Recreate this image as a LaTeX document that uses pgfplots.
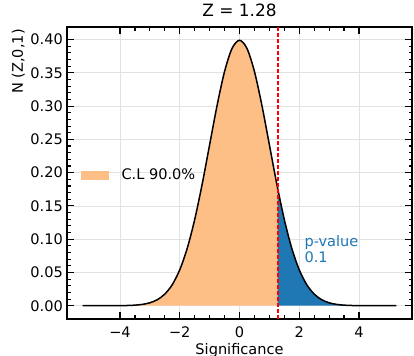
\documentclass[border=0pt]{standalone}
\usepackage{fontspec}
\setmainfont{DejaVu Sans}
\usepackage{pgfplots}
\pgfplotsset{compat=1.18}
\definecolor{cl}{RGB}{254,191,134}
\definecolor{pv}{RGB}{31,119,180}
\definecolor{gr}{RGB}{226,226,226}
\begin{document}
\begin{tikzpicture}[font=\fontsize{14.6}{17}\selectfont]
\useasboundingbox (-67bp,-37bp) rectangle (347bp,319bp);
\begin{axis}[
  at={(0,0)}, anchor=south west,
  scale only axis, width=345bp, height=292bp,
  xmin=-5.775, xmax=5.775, ymin=-0.01995, ymax=0.4189,
  xtick={-4,-2,0,2,4}, xticklabels={−4,−2,0,2,4},
  ytick={0,0.05,0.10,0.15,0.20,0.25,0.30,0.35,0.40},
  yticklabels={0.00,0.05,0.10,0.15,0.20,0.25,0.30,0.35,0.40},
  minor x tick num=3, minor y tick num=4,
  tick align=inside, xtick pos=both, ytick pos=both,
  major tick length=7bp, minor tick length=3.5bp,
  major tick style={black, line width=1.1bp},
  minor tick style={black, line width=1.1bp},
  axis line style={line width=2.4bp},
  grid=major, major grid style={gr, line width=0.8bp},
  tick label style={font=\fontsize{14.6}{17}\selectfont},
  xticklabel style={anchor=north, inner sep=0pt, yshift=-8bp},
  yticklabel style={anchor=east, inner sep=0pt, xshift=-4bp},
  xlabel={Significance},
  xlabel style={at={(rel axis cs:0.5,0)}, anchor=north, inner sep=0pt, yshift=-24bp},
  title={Z = 1.28},
  title style={at={(rel axis cs:0.5,1)}, anchor=base, inner sep=0pt, yshift=5bp, font=\fontsize{17}{20}\selectfont},
  legend style={at={(0.03,0.493)}, anchor=west, draw=none, fill=none, font=\fontsize{14.6}{17}\selectfont},
  legend cell align=left,
]
\addplot[draw=none, fill=cl, smooth, area legend,
  legend image code/.code={\fill[cl] (0bp,-4.5bp) rectangle (28bp,4.5bp); \path (28bp,0) -- (39bp,0);}] coordinates {
(-5.25,0.0000004) (-5.0,0.0000015) (-4.75,0.000005) (-4.5,0.000016) (-4.25,0.000048)
(-4.0,0.000134) (-3.75,0.000353) (-3.5,0.000873) (-3.25,0.002029) (-3.0,0.004432)
(-2.75,0.009094) (-2.5,0.017528) (-2.25,0.031740) (-2.0,0.053991) (-1.75,0.086277)
(-1.5,0.129518) (-1.25,0.182649) (-1.0,0.241971) (-0.75,0.301137) (-0.5,0.352065)
(-0.25,0.386668) (0,0.398942) (0.25,0.386668) (0.5,0.352065) (0.75,0.301137)
(1.0,0.241971) (1.28,0.175850)
} \closedcycle;
\addlegendentry{C.L 90.0\%}
\addplot[draw=none, fill=pv, smooth, forget plot] coordinates {
(1.28,0.175850) (1.5,0.129518) (1.75,0.086277) (2.0,0.053991) (2.25,0.031740)
(2.5,0.017528) (2.75,0.009094) (3.0,0.004432) (3.25,0.002029) (3.5,0.000873)
(3.75,0.000353) (4.0,0.000134) (4.25,0.000048) (4.5,0.000016) (4.75,0.000005)
(5.0,0.0000015) (5.25,0.0000004)
} \closedcycle;
\addplot[black, line width=1.5bp, smooth, forget plot] coordinates {
(-5.25,0.0000004) (-5.0,0.0000015) (-4.75,0.000005) (-4.5,0.000016) (-4.25,0.000048)
(-4.0,0.000134) (-3.75,0.000353) (-3.5,0.000873) (-3.25,0.002029) (-3.0,0.004432)
(-2.75,0.009094) (-2.5,0.017528) (-2.25,0.031740) (-2.0,0.053991) (-1.75,0.086277)
(-1.5,0.129518) (-1.25,0.182649) (-1.0,0.241971) (-0.75,0.301137) (-0.5,0.352065)
(-0.25,0.386668) (0,0.398942) (0.25,0.386668) (0.5,0.352065) (0.75,0.301137)
(1.0,0.241971) (1.25,0.182649) (1.5,0.129518) (1.75,0.086277) (2.0,0.053991) (2.25,0.031740)
(2.5,0.017528) (2.75,0.009094) (3.0,0.004432) (3.25,0.002029) (3.5,0.000873)
(3.75,0.000353) (4.0,0.000134) (4.25,0.000048) (4.5,0.000016) (4.75,0.000005)
(5.0,0.0000015) (5.25,0.0000004)
};
\addplot[red, line width=1.7bp, dash pattern=on 4bp off 2bp, forget plot] coordinates {(1.28,-0.01995) (1.28,0.4189)};
\node[text=pv, align=left, anchor=north west, inner sep=0pt, font=\fontsize{14.6}{16.5}\selectfont] at (axis cs:2.17,0.106) {p-value\\0.1};
\end{axis}
\node[rotate=90, anchor=south east, inner sep=0pt] at (-42bp,290bp) {N (Z,0,1)};
\end{tikzpicture}
\end{document}
